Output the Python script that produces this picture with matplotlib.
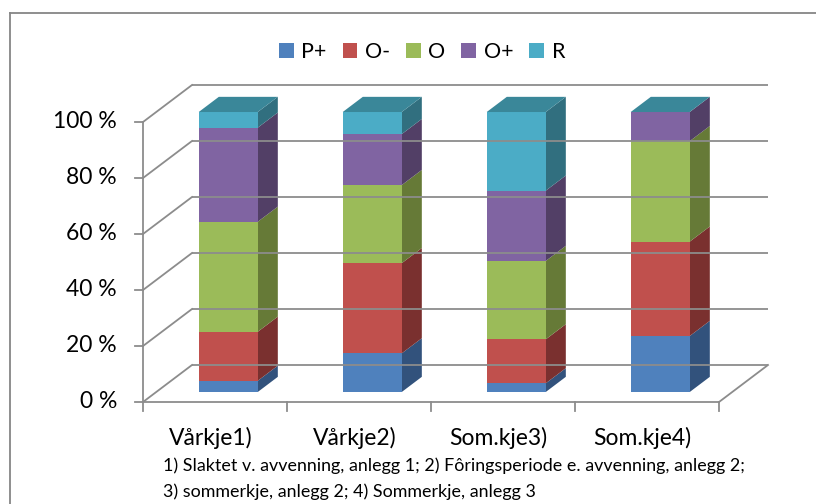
import matplotlib.pyplot as plt
from matplotlib.patches import Polygon, Patch

plt.rcParams['font.family'] = ['Lato', 'DejaVu Sans']

categories = ['Vårkje1)', 'Vårkje2)', 'Som.kje3)', 'Som.kje4)']
series = ['P+', 'O-', 'O', 'O+', 'R']
p_plus = [4.0, 13.8, 3.1, 20.0]
o_minus = [17.5, 32.2, 15.7, 33.7]
o_mid = [39.3, 27.9, 28.0, 35.9]
o_plus = [33.6, 18.2, 25.1, 10.4]
r_vals = [5.6, 7.9, 28.1, 0.0]
yticks = [0, 20, 40, 60, 80, 100]

front_cols = ['#4F81BD', '#C0504D', '#9BBB59', '#8064A2', '#4BACC6']
side_cols = ['#32527C', '#7A302F', '#667A37', '#523F66', '#316F7F']
top_col = '#3A8799'
grid_col = '#8C8C8C'

# pixel layout of the pseudo 3d box
W, H = 816, 504
ORIG_X, ORIG_Y = 143, 402     # front-left corner at 0 %
PX_CAT = 144.0
PX_PCT = 2.8
DEPTH_X = 49 / PX_CAT          # back wall offset in data units
DEPTH_Y = 37 / PX_PCT
BAR_W = 59 / PX_CAT
D_FRONT, D_BACK = 0.27, 0.68


def proj(x, y, d):
    return (x + d * DEPTH_X, y + d * DEPTH_Y)


fig = plt.figure(figsize=(W / 100, H / 100), dpi=100)
ax = fig.add_axes([0, 0, 1, 1])
ax.set_xlim(-ORIG_X / PX_CAT, (W - ORIG_X) / PX_CAT)
ax.set_ylim((ORIG_Y - H) / PX_PCT, ORIG_Y / PX_PCT)
ax.axis('off')

n = len(categories)
lw = 1.3
# back wall + side wall gridlines
for t in yticks:
    x0, y0 = proj(0, t, 1)
    x1, y1 = proj(n, t, 1)
    ax.plot([x0, x1], [y0, y1], color=grid_col, lw=lw, solid_capstyle='butt')
    ax.plot([0, x0], [t, y0], color=grid_col, lw=lw)
    ax.plot([-8 / PX_CAT, 0], [t, t], color=grid_col, lw=lw)
# front axis and floor
ax.plot([0, 0], [0, 100], color=grid_col, lw=lw)
ax.plot([0, n], [0, 0], color=grid_col, lw=lw)
xr, yr = proj(n, 0, 1)
ax.plot([n, xr], [0, yr], color=grid_col, lw=lw)
for i in range(n + 1):
    ax.plot([i, i], [0, -9 / PX_PCT], color=grid_col, lw=lw)

# bars
stack = [p_plus, o_minus, o_mid, o_plus, r_vals]
for i in range(n):
    xc = i + 0.5
    xl, xh = xc - BAR_W / 2, xc + BAR_W / 2
    base = 0.0
    for s in range(len(series)):
        v = stack[s][i]
        top = base + v
        if v > 0:
            front = [proj(xl, base, D_FRONT), proj(xh, base, D_FRONT),
                     proj(xh, top, D_FRONT), proj(xl, top, D_FRONT)]
            side = [proj(xh, base, D_FRONT), proj(xh, base, D_BACK),
                    proj(xh, top, D_BACK), proj(xh, top, D_FRONT)]
            ax.add_patch(Polygon(side, closed=True, fc=side_cols[s], ec='none'))
            ax.add_patch(Polygon(front, closed=True, fc=front_cols[s], ec='none'))
        base = top
    cap = [proj(xl, base, D_FRONT), proj(xh, base, D_FRONT),
           proj(xh, base, D_BACK), proj(xl, base, D_BACK)]
    ax.add_patch(Polygon(cap, closed=True, fc=top_col, ec='none'))

# labels
for t in yticks:
    ax.text(-26 / PX_CAT, t, f'{t} %', ha='right', va='center', fontsize=16.5)
for i, c in enumerate(categories):
    ax.text(i + 0.47, -36 / PX_PCT, c, ha='center', va='center', fontsize=16.5)

handles = [Patch(fc=c, ec='none') for c in front_cols]
fig.legend(handles, series, loc='center', bbox_to_anchor=(422 / W, 1 - 52 / H),
           ncol=5, frameon=False, fontsize=15.5, handlelength=0.68, handleheight=0.68,
           handletextpad=0.35, columnspacing=0.75)

fig.text(163 / W, 1 - 466 / H,
         '1) Slaktet v. avvenning, anlegg 1; 2) Fôringsperiode e. avvenning, anlegg 2;',
         ha='left', va='center', fontsize=12.9)
fig.text(163 / W, 1 - 492 / H, '3) sommerkje, anlegg 2; 4) Sommerkje, anlegg 3',
         ha='left', va='center', fontsize=12.9)

# outer frame
ax.plot([-133 / PX_CAT, -133 / PX_CAT], [(ORIG_Y - H) / PX_PCT, (ORIG_Y - 13) / PX_PCT],
        color='#868686', lw=1.3)
ax.plot([-133 / PX_CAT, (W - ORIG_X) / PX_CAT], [(ORIG_Y - 13) / PX_PCT] * 2,
        color='#868686', lw=1.3)

fig.savefig('out.png', dpi=100)
